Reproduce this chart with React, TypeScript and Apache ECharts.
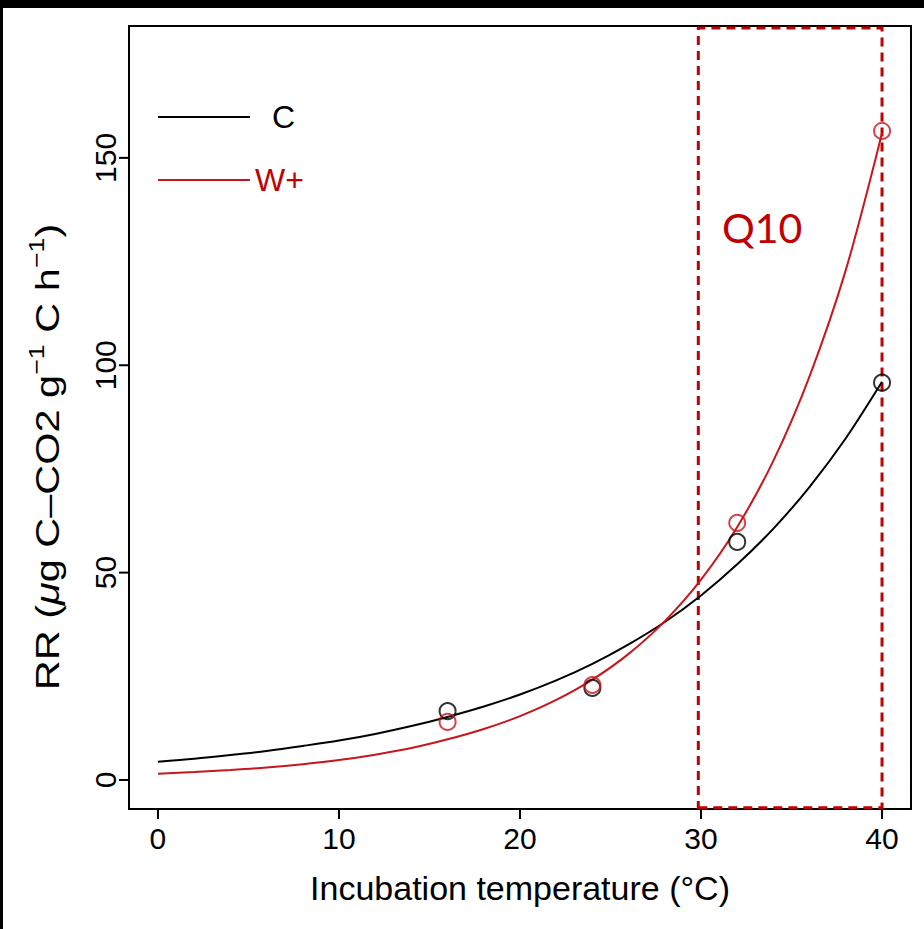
import React, { useEffect, useRef } from "react";
import * as echarts from "echarts";

// Incubation temperatures at which the fitted curves were read (°C)
const fitTemps = [0, 2, 4, 6, 8, 10, 12, 14, 16, 18, 20, 22, 24, 26, 28, 30, 32, 34, 36, 38, 40];
// Fitted curve values
const cFit = [4.4, 5.1, 6.0, 7.0, 8.2, 9.5, 11.1, 13.0, 15.2, 17.7, 20.6, 24.0, 28.0, 32.7, 38.1, 44.5, 52.0, 60.6, 70.7, 82.4, 96.0];
const wFit = [1.5, 1.9, 2.4, 3.0, 3.8, 4.8, 6.1, 7.7, 9.8, 12.3, 15.4, 19.3, 24.2, 30.4, 38.3, 48.3, 61.0, 77.0, 97.4, 123.0, 156.0];
// Observed points
const obsTemps = [16, 24, 32, 40];
const cObs = [16.6, 22.2, 57.4, 95.8];
const wObs = [14.0, 22.9, 62.0, 156.5];
// Axis ticks
const xTicks = [0, 10, 20, 30, 40];
const yTicks = [0, 50, 100, 150];
const xRange = [-1.6, 41.6];
const yRange = [-7, 181.8];
// Q10 highlighted range
const q10Range = [29.85, 40];
const seriesNames = ["C", "W+"];
const xTitle = "Incubation temperature (°C)";
const yTitle = "{a|RR (}{m|μ}{a|g C–CO2 g}{s|−1}{a| C h}{s|−1}{a|)}";

const RED = "#c8161d";
const DARKRED = "#c00000";
const FONT = "'Liberation Sans', Arial, Helvetica, sans-serif";

export default function App() {
  const ref = useRef<HTMLDivElement>(null);
  useEffect(() => {
    if (!ref.current) return;
    const chart = echarts.init(ref.current, null, { renderer: "svg" });
    const pairs = (xs: number[], ys: number[]) => xs.map((x, i) => [x, ys[i]]);
    const baseGraphics: any[] = [
      {
        id: "q10",
        type: "text",
        left: 719,
        top: 199,
        style: { text: "Q10", fill: DARKRED, fontFamily: "Lato, 'Open Sans', sans-serif", fontSize: 41 },
      },
      {
        id: "ytitle",
        type: "text",
        x: 44,
        y: 449,
        rotation: Math.PI / 2,
        scaleX: 1.22,
        style: {
          text: yTitle,
          align: "center",
          verticalAlign: "middle",
          fill: "#000",
          fontFamily: FONT,
          fontSize: 34,
          rich: {
            a: { fontFamily: FONT, fontSize: 34, fill: "#000" },
            m: { fontFamily: FONT, fontSize: 34, fontStyle: "italic", fill: "#000" },
            s: { fontFamily: FONT, fontSize: 22, fill: "#000", padding: [0, 0, 22, 0] },
          },
        },
      },
    ];
    chart.setOption({
      animation: false,
      backgroundColor: "#ffffff",
      grid: {
        left: 126,
        right: 13,
        top: 18,
        bottom: 120,
        show: true,
        borderColor: "#000",
        borderWidth: 2,
        backgroundColor: "transparent",
      },
      legend: [
        {
          data: [{ name: seriesNames[0], textStyle: { color: "#000" } }],
          left: 150,
          top: 88,
          icon: "rect",
          itemWidth: 92,
          itemHeight: 2,
          itemStyle: { borderWidth: 0 },
          textStyle: { fontFamily: FONT, fontSize: 32, padding: [0, 0, 0, 17] },
          selectedMode: false,
        },
        {
          data: [{ name: seriesNames[1], textStyle: { color: DARKRED } }],
          left: 150,
          top: 151,
          icon: "rect",
          itemWidth: 92,
          itemHeight: 2,
          itemStyle: { borderWidth: 0 },
          textStyle: { fontFamily: FONT, fontSize: 32, padding: [0, 0, 0, 0] },
          selectedMode: false,
        },
      ],
      xAxis: {
        type: "value",
        min: xRange[0],
        max: xRange[1],
        axisLine: { show: true, onZero: false, lineStyle: { color: "#000", width: 2 } },
        splitLine: { show: false },
        axisTick: { show: false },
        axisLabel: { customValues: xTicks, color: "#000", fontFamily: FONT, fontSize: 30, margin: 14 },
        name: xTitle,
        nameLocation: "middle",
        nameGap: 62,
        nameTextStyle: { color: "#000", fontFamily: FONT, fontSize: 34 },
      },
      yAxis: {
        type: "value",
        min: yRange[0],
        max: yRange[1],
        axisLine: { show: true, onZero: false, lineStyle: { color: "#000", width: 2 } },
        splitLine: { show: false },
        axisTick: { show: false },
        axisLabel: { customValues: yTicks, rotate: 90, color: "#000", fontFamily: FONT, fontSize: 30, margin: 9 },
      },
      series: [
        {
          name: seriesNames[0],
          type: "line",
          data: pairs(fitTemps, cFit),
          smooth: 0.3,
          showSymbol: false,
          lineStyle: { color: "#000", width: 2 },
          itemStyle: { color: "#000" },
          z: 3,
          markArea: {
            silent: true,
            itemStyle: { color: "transparent", borderColor: DARKRED, borderWidth: 3, borderType: [9, 6] },
            data: [[{ xAxis: q10Range[0], yAxis: -6.7 }, { xAxis: q10Range[1], yAxis: 181.3 }]],
          },
        },
        {
          name: seriesNames[1],
          type: "line",
          data: pairs(fitTemps, wFit),
          smooth: 0.3,
          showSymbol: false,
          lineStyle: { color: RED, width: 2 },
          itemStyle: { color: RED },
          z: 3,
        },
        {
          name: "C obs",
          type: "scatter",
          data: pairs(obsTemps, cObs),
          symbol: "circle",
          symbolSize: 16,
          itemStyle: { color: "rgba(0,0,0,0)", borderColor: "#000", borderWidth: 2 },
          z: 4,
        },
        {
          name: "W+ obs",
          type: "scatter",
          data: pairs(obsTemps, wObs),
          symbol: "circle",
          symbolSize: 16,
          itemStyle: { color: "rgba(0,0,0,0)", borderColor: RED, borderWidth: 2 },
          z: 4,
        },
      ],
      graphic: baseGraphics,
    });

    // Outward tick marks at the axis edges, positioned through the chart's own scales
    const tickLen = 10;
    const tickGraphics: any[] = [];
    xTicks.forEach((v, i) => {
      const p = chart.convertToPixel({ gridIndex: 0 }, [v, yRange[0]]) as number[];
      tickGraphics.push({
        id: "xt" + i,
        type: "line",
        shape: { x1: p[0], y1: p[1], x2: p[0], y2: p[1] + tickLen },
        style: { stroke: "#000", lineWidth: 2 },
        silent: true,
      });
    });
    yTicks.forEach((v, i) => {
      const p = chart.convertToPixel({ gridIndex: 0 }, [xRange[0], v]) as number[];
      tickGraphics.push({
        id: "yt" + i,
        type: "line",
        shape: { x1: p[0] - tickLen, y1: p[1], x2: p[0], y2: p[1] },
        style: { stroke: "#000", lineWidth: 2 },
        silent: true,
      });
    });
    chart.setOption({ graphic: [...baseGraphics, ...tickGraphics] });

    return () => chart.dispose();
  }, []);
  return (
    <div style={{ position: "absolute", left: 0, top: 0, width: 924, height: 929, background: "#000" }}>
      <div
        ref={ref}
        style={{ position: "absolute", left: 3, top: 8, width: 921, height: 921, background: "#fff" }}
      />
    </div>
  );
}
